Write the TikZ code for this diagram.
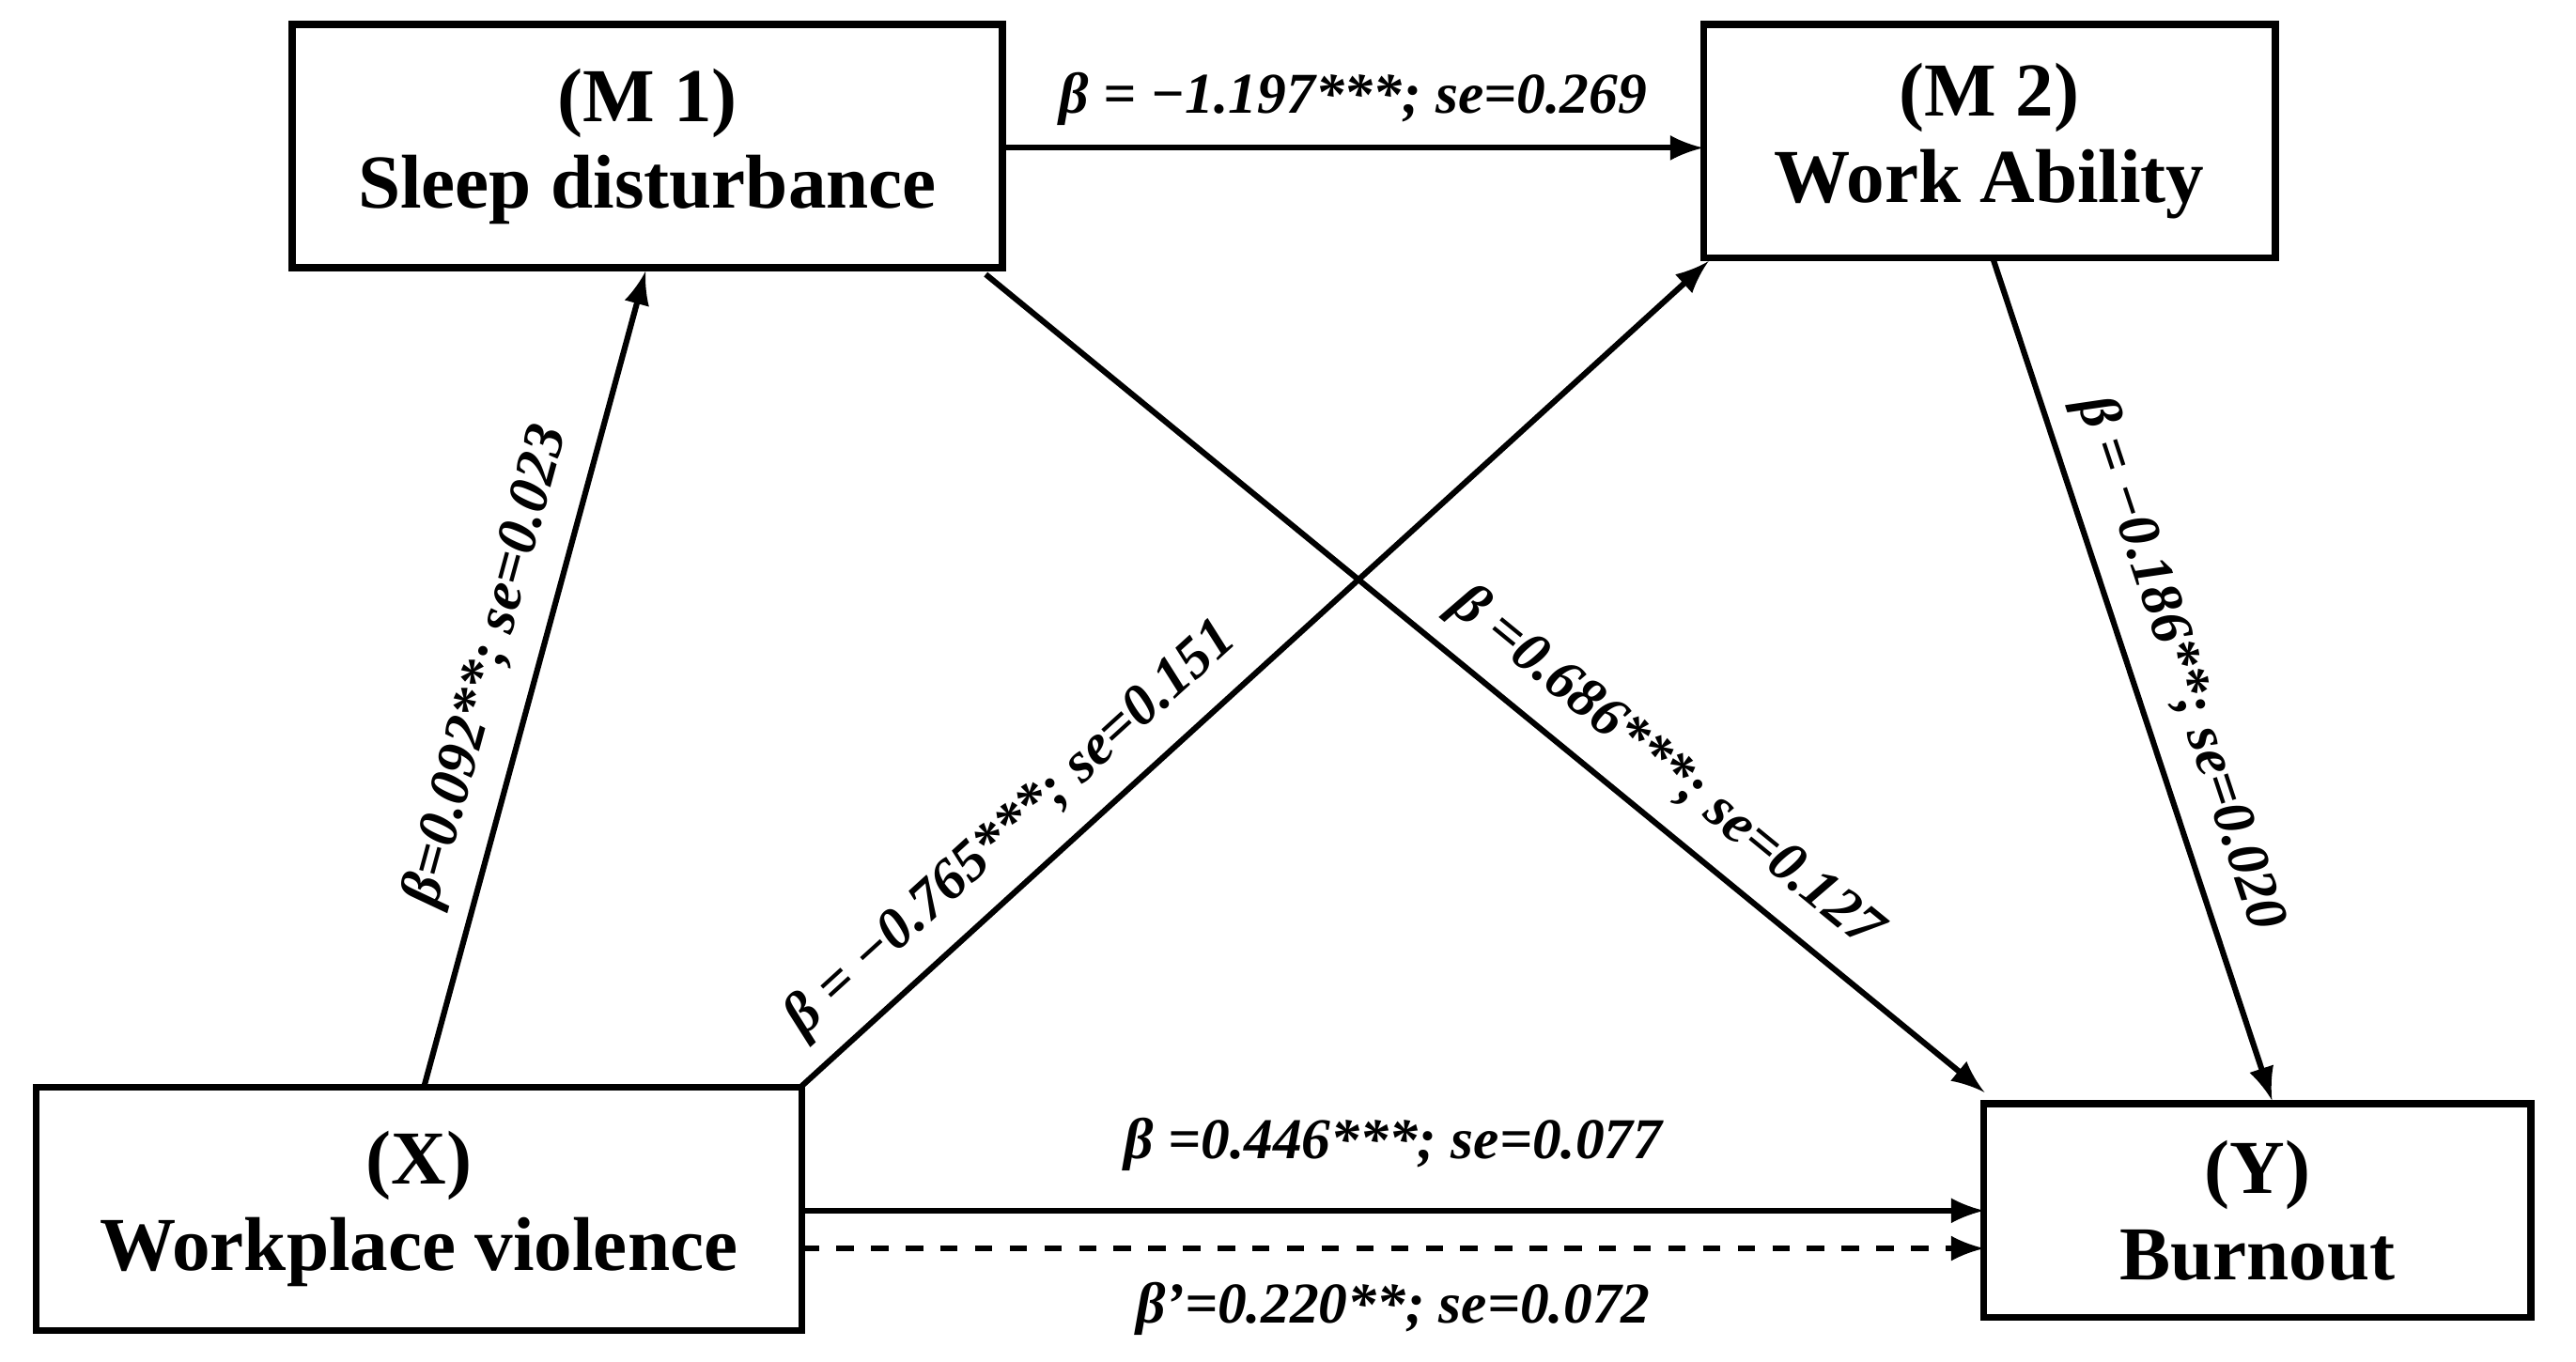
\documentclass[tikz,border=0pt]{standalone}
\usepackage{fontspec}
\setmainfont{Liberation Serif}
\begin{document}
\begin{tikzpicture}[x=0.01cm,y=-0.01cm,
  box/.style={draw,line width=1.2pt,align=center,font=\fontsize{13.2}{15}\selectfont\bfseries,inner sep=0pt},
  arr/.style={-latex,line width=1pt},
  lab/.style={font=\fontsize{10}{12}\selectfont\bfseries\itshape,sloped}]
\useasboundingbox (0,0) rectangle (1568,829);
\node[box,minimum width=4.32cm,minimum height=1.48cm] (m1) at (394,89) {(M 1)\\Sleep disturbance};
\node[box,minimum width=3.48cm,minimum height=1.42cm] (m2) at (1211,86) {(M 2)\\Work Ability};
\node[box,minimum width=4.66cm,minimum height=1.48cm] (x) at (255,736) {(X)\\Workplace violence};
\node[box,minimum width=3.33cm,minimum height=1.30cm] (y) at (1374,737) {(Y)\\Burnout};
\coordinate (xa) at (258,662); \coordinate (m1a) at (393,165);
\coordinate (xb) at (486,663); \coordinate (m2b) at (1040,159);
\coordinate (m1c) at (600,167); \coordinate (yc) at (1208,665);
\coordinate (m2d) at (1213,157); \coordinate (yd) at (1383,670);
\coordinate (m1e) at (610,90); \coordinate (m2e) at (1037,90);
\coordinate (xf) at (488,737); \coordinate (yf) at (1208,737);
\coordinate (xg) at (488,760); \coordinate (yg) at (1208,760);
\draw[arr] (xa) -- node[lab,above,pos=0.5]{β=0.092**; se=0.023} (m1a);
\draw[arr] (xb) -- node[lab,above,pos=0.27]{β = −0.765***; se=0.151} (m2b);
\draw[arr] (m1c) -- node[lab,above,pos=0.65]{β =0.686***; se=0.127} (yc);
\draw[arr] (m2d) -- node[lab,above,pos=0.5]{β = −0.186**; se=0.020} (yd);
\draw[arr] (m1e) -- node[lab,above]{β = −1.197***; se=0.269} (m2e);
\draw[arr] (xf) -- node[lab,above=3pt]{β =0.446***; se=0.077} (yf);
\draw[arr,dashed] (xg) -- node[lab,below=2pt]{β’=0.220**; se=0.072} (yg);
\end{tikzpicture}
\end{document}
